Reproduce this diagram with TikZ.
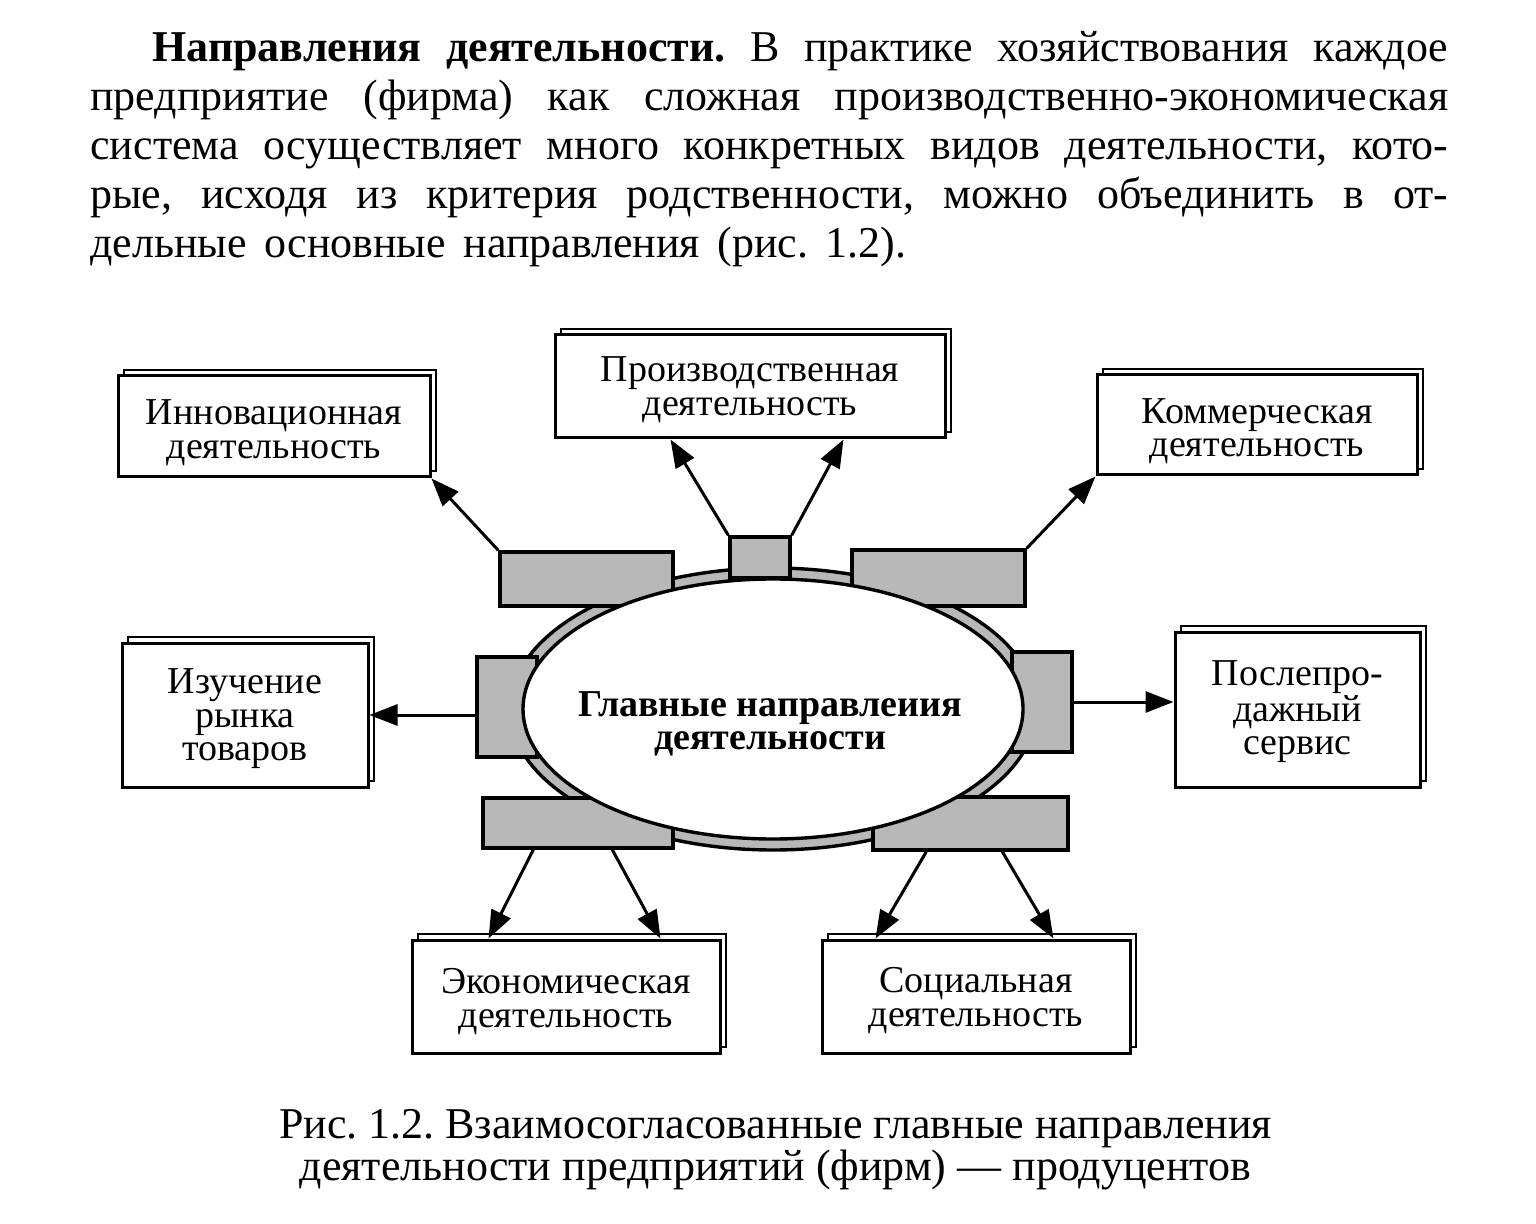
\documentclass[tikz,border=0pt]{standalone}
\usepackage{fontspec}
\setmainfont{Liberation Serif}
\usetikzlibrary{arrows.meta,calc}
\begin{document}
\frenchspacing
\begin{tikzpicture}[x=0.5pt,y=-0.5pt,
  outbox/.style={draw, line width=1.5pt, fill=white, inner sep=0pt,
    preaction={draw, line width=0.7pt, transform canvas={shift={(3pt,3pt)}}}},
  btext/.style={align=center, inner sep=0pt, font=\fontsize{19}{16.75}\selectfont},
  grect/.style={draw, line width=1.7pt, fill=black!28, inner sep=0pt},
  arr/.style={line width=1.5pt, -{Triangle[length=14pt,width=10.5pt]}},
  ptext/.style={anchor=base west, inner sep=0pt, font=\fontsize{22}{24.5}\selectfont},
  ctext/.style={anchor=base, inner sep=0pt, font=\fontsize{22}{20.5}\selectfont},
  ]
\useasboundingbox[fill=white] (0,0) rectangle (1536,1224);

% paragraph
\node[ptext] (p1) at (152,62) {\makebox[648pt][s]{\textbf{Направления деятельности.} В практике хозяйствования каждое}};
\node[ptext] (p2) at (90,111) {\makebox[679pt][s]{предприятие (фирма) как сложная производственно-экономическая}};
\node[ptext] (p3) at (90,160) {\makebox[679pt][s]{система осуществляет много конкретных видов деятельности, кото-}};
\node[ptext] (p4) at (90,209) {\makebox[679pt][s]{рые, исходя из критерия родственности, можно объединить в от-}};
\node[ptext] (p5) at (90,258) {\makebox[408pt][s]{дельные основные направления (рис.~1.2).}};

% ring
\draw[line width=1.7pt, fill=black!28] (773,709) ellipse [x radius=263, y radius=141];

% gray rectangles
\node[grect, minimum width=86.5pt, minimum height=27pt] (gTL) at (586.5,579) {};
\node[grect, minimum width=30pt, minimum height=20.5pt] (gTC) at (760,557.5) {};
\node[grect, minimum width=86.5pt, minimum height=28pt] (gTR) at (938.5,578) {};
\node[grect, minimum width=30pt, minimum height=50pt] (gL) at (507,707) {};
\node[grect, minimum width=30pt, minimum height=50pt] (gR) at (1042,702) {};
\node[grect, minimum width=95pt, minimum height=25pt] (gBL) at (578,823) {};
\node[grect, minimum width=97.5pt, minimum height=26.5pt] (gBR) at (970.5,823.5) {};

% centre ellipse
\draw[line width=1.7pt, fill=white] (773,709) ellipse [x radius=250, y radius=130];
\node[align=center, inner sep=0pt, font=\fontsize{19}{16.5}\selectfont\bfseries] (main) at (770,724)
  {Главные направлеиия\\деятельности};

% outer boxes
\node[outbox, minimum width=156pt, minimum height=50.5pt] (inno) at (274,426.5) {};
\node[outbox, minimum width=195pt, minimum height=51.5pt] (prod) at (750,386.5) {};
\node[outbox, minimum width=160pt, minimum height=50pt] (komm) at (1257,425) {};
\node[outbox, minimum width=123pt, minimum height=72pt] (izuch) at (245,715) {};
\node[outbox, minimum width=122.5pt, minimum height=77.5pt] (posle) at (1297.5,709.5) {};
\node[outbox, minimum width=154pt, minimum height=56.5pt] (ekon) at (566,996.5) {};
\node[outbox, minimum width=154pt, minimum height=56.5pt] (soc) at (976,996.5) {};

\node[btext] (tinno) at ([yshift=-3pt]inno.center) {Инновационная\\деятельность};
\node[btext] (tprod) at ([yshift=-1.5pt]prod.center) {Производственная\\деятельность};
\node[btext] (tkomm) at ([yshift=-3pt]komm.center) {Коммерческая\\деятельность};
\node[btext] (tizuch) at ([yshift=-2pt]izuch.center) {Изучение\\рынка\\товаров};
\node[btext] (tposle) at ([yshift=-1pt]posle.center) {Послепро-\\дажный\\сервис};
\node[btext] (tekon) at ([yshift=-2.5pt]ekon.center) {Экономическая\\деятельность};
\node[btext] (tsoc) at ([yshift=-2pt]soc.center) {Социальная\\деятельность};

% arrows
\draw[arr] (gTL.north west) -- (inno.south east);
\draw[arr] (gTC.north west) -- ($(prod.south west)+(117,0)$);
\draw[arr] (gTC.north east) -- ($(prod.south west)+(290,0)$);
\draw[arr] (gTR.north east) -- (komm.south west);
\draw[arr] (izuch.east -| gL.west) -- (izuch.east);
\draw[arr] (gR.east) -- (gR.east -| posle.west);
\draw[arr] ($(gBL.south west)+(52,0)$) -- ($(ekon.north west)+(78,0)$);
\draw[arr] ($(gBL.south west)+(131,0)$) -- ($(ekon.north west)+(250,0)$);
\draw[arr] ($(gBR.south west)+(55,0)$) -- ($(soc.north west)+(55,0)$);
\draw[arr] ($(gBR.south west)+(131,0)$) -- ($(soc.north west)+(233,0)$);

% caption
\node[ctext] (c1) at (775.5,1138) {Рис. 1.2. Взаимосогласованные главные направления};
\node[ctext] (c2) at (775.5,1180) {деятельности предприятий (фирм) — продуцентов};
\end{tikzpicture}
\end{document}
